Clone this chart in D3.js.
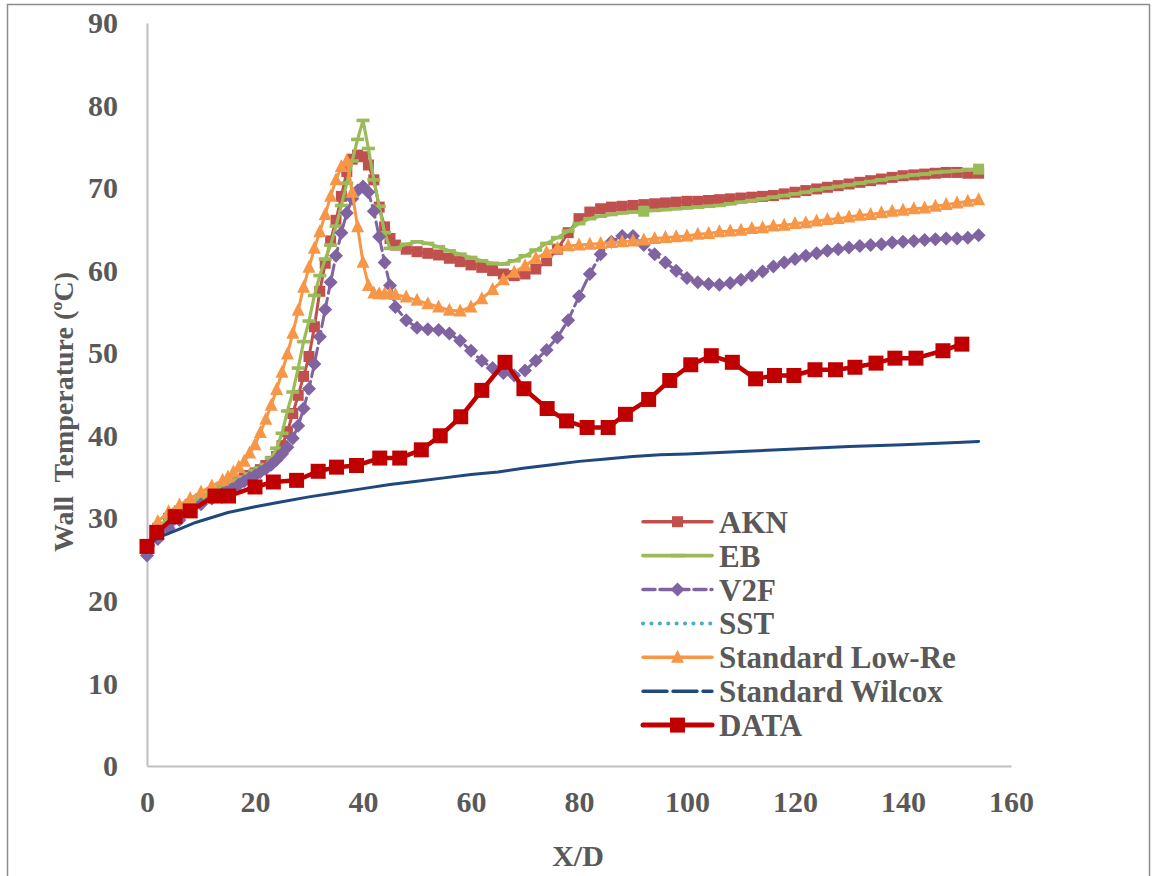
<!DOCTYPE html>
<html><head><meta charset="utf-8">
<script src="https://cdn.jsdelivr.net/npm/d3@7"></script>
<style>
body{margin:0;background:#fff}
svg{display:block}
</style>
</head><body>
<svg id="c" width="1153" height="876"></svg>
<script>
// ---------- data ----------
const xTicks = [0, 20, 40, 60, 80, 100, 120, 140, 160];
const yTicks = [0, 10, 20, 30, 40, 50, 60, 70, 80, 90];
const seriesNames = ["AKN", "EB", "V2F", "SST", "Standard Low-Re", "Standard Wilcox", "DATA"];

const xModel = [0,2,4,6,8,10,12,14,15,16,17,18,19,20,21,22,23,24,25,26,27,28,29,30,31,32,33,34,35,36,37,38,39,40,41,42,43,44,45,46,
  48,50,52,54,56,58,60,62,64,66,68,70,72,74,76,78,80,82,84,86,88,90,92,94,96,98,100,102,104,106,108,110,112,114,116,118,120,122,124,126,
  128,130,132,134,136,138,140,142,144,146,148,150,152,154];

const yAKN = [26.6,28.8,30.0,30.9,31.7,32.4,33.1,33.7,
  34.0,34.3,34.6,34.9,35.2,35.5,35.9,36.4,36.9,37.5,38.8,40.5,42.7,44.9,47.2,49.6,53.2,57.5,60.9,63.6,66.1,69.0,72.0,73.5,74.0,73.8,72.8,71.0,67.7,65.3,63.9,63.1,
  62.6,62.3,62.1,61.9,61.5,61.1,60.7,60.4,60.0,59.6,59.4,59.6,60.2,61.2,62.6,64.6,66.3,67.1,67.5,67.7,67.8,67.9,68.0,68.1,68.2,68.3,68.4,68.4,68.5,68.6,
  68.7,68.8,68.9,69.0,69.1,69.3,69.5,69.7,69.9,70.1,70.3,70.5,70.7,70.9,71.1,71.3,71.5,71.6,71.7,71.8,71.9,71.9,71.8,71.8];

const yEB = [26.6,28.9,30.1,31.0,31.8,32.5,33.2,33.8,
  34.1,34.4,34.7,35.0,35.4,35.8,36.1,36.5,37.3,38.5,40.3,43.0,45.3,48.2,51.4,53.9,57.0,59.4,61.4,63.1,65.4,67.9,70.6,73.3,75.9,78.2,74.8,71.0,67.8,64.6,62.7,62.7,
  63.2,63.5,63.3,62.9,62.4,62.0,61.6,61.2,60.9,60.8,61.2,61.8,62.5,63.3,64.0,64.8,65.7,66.3,66.6,66.8,67.0,67.1,67.2,67.3,67.4,67.5,67.6,67.7,67.8,67.9,
  68.1,68.3,68.5,68.7,68.9,69.1,69.3,69.5,69.8,70.0,70.2,70.4,70.6,70.8,71.0,71.2,71.4,71.6,71.7,71.9,72.0,72.1,72.2,72.3];
const ebSquareX = [92, 154];

const yV2F = [25.5,27.5,28.8,29.8,30.9,31.7,32.4,33.0,
  33.4,33.7,34.1,34.5,34.9,35.2,35.6,36.0,36.5,37.1,37.8,38.6,39.7,41.2,43.3,45.7,48.7,52.0,55.3,58.6,61.8,64.6,67.0,68.7,69.7,70.2,69.5,67.2,64.1,61.0,58.2,55.6,
  54.0,53.1,52.9,52.8,52.4,51.5,50.3,49.1,48.2,47.6,47.3,47.9,49.1,50.4,51.9,54.0,56.9,59.6,62.0,63.5,64.2,64.2,63.1,62.0,61.0,60.0,59.1,58.6,58.4,58.3,
  58.5,58.9,59.4,59.9,60.5,61.0,61.4,61.8,62.1,62.4,62.6,62.8,63.0,63.1,63.2,63.4,63.5,63.6,63.7,63.8,63.9,63.9,64.0,64.3];

const ySST = [];

const yLowRe = [26.6,29.6,30.8,31.6,32.4,33.2,33.9,34.6,
  35.0,35.6,36.2,36.9,37.9,38.9,40.4,42.0,43.7,45.6,47.7,49.9,52.4,55.2,58.0,60.4,62.7,64.7,66.8,69.0,71.0,72.6,73.3,69.5,65.3,61.0,58.2,57.3,57.2,57.2,57.2,57.1,
  56.8,56.4,56.0,55.6,55.2,55.1,55.6,56.6,57.7,58.9,59.8,60.6,61.5,62.2,62.7,63.0,63.1,63.2,63.3,63.4,63.5,63.6,63.7,63.9,64.0,64.1,64.2,64.4,64.5,64.7,
  64.8,64.9,65.1,65.2,65.4,65.5,65.7,65.8,66.0,66.2,66.3,66.5,66.7,66.8,67.0,67.2,67.3,67.5,67.6,67.8,68.0,68.2,68.4,68.6];

const xWilcox = [0,1,3,6,9,12,15,20,25,30,35,40,45,50,55,60,65,70,75,80,85,90,95,100,110,120,130,140,150,154];
const yWilcox = [26.3,27.2,27.9,28.7,29.5,30.1,30.7,31.4,32.0,32.6,33.1,33.6,34.1,34.5,34.9,35.3,35.6,36.1,36.5,36.9,37.2,37.5,37.7,37.8,38.1,38.4,38.7,38.9,39.2,39.3];

const xData = [0,1.8,5.2,8,12.6,15.1,20,23.4,27.7,31.7,35.1,38.8,43.1,46.8,50.8,54.3,58.1,62,66.3,69.8,74.1,77.7,81.5,85.4,88.6,92.9,96.8,100.7,104.5,108.4,112.7,116.2,119.8,123.7,127.5,131.1,135,138.5,142.4,147.4,150.9];
const yData = [26.6,28.3,30.2,30.9,32.7,32.7,33.8,34.4,34.6,35.7,36.2,36.4,37.3,37.3,38.3,40.0,42.3,45.5,48.9,45.7,43.3,41.8,41.0,41.0,42.6,44.4,46.7,48.6,49.7,48.9,46.9,47.3,47.3,48.0,48.0,48.3,48.8,49.4,49.4,50.3,51.1];

// ---------- drawing ----------
const FONT = "'Liberation Serif','Times New Roman',serif";
const GREY = "#595959";
const svg = d3.select("#c");

svg.append("rect").attr("x", 7.5).attr("y", 4.5).attr("width", 1142).attr("height", 900)
  .attr("fill", "none").attr("stroke", "#8c8c8c").attr("stroke-width", 1.5);

const x = d3.scaleLinear().domain([0, 160]).range([147, 1011]);
const y = d3.scaleLinear().domain([0, 90]).range([766, 23]);

const gx = svg.append("g").attr("transform", "translate(0,766)")
  .call(d3.axisBottom(x).tickValues(xTicks).tickSize(0).tickSizeOuter(0).tickPadding(25));
const gy = svg.append("g").attr("transform", "translate(147,0)")
  .call(d3.axisLeft(y).tickValues(yTicks).tickSize(0).tickSizeOuter(0).tickPadding(29));
[gx, gy].forEach(g => {
  g.attr("font-family", FONT).attr("font-size", 30).attr("font-weight", "bold").attr("color", GREY);
  g.select(".domain").attr("stroke", "#bfbfbf").attr("stroke-width", 2);
});

svg.append("text").attr("x", 578).attr("y", 866).attr("text-anchor", "middle")
  .attr("font-family", FONT).attr("font-size", 30).attr("font-weight", "bold").attr("fill", GREY).text("X/D");
svg.append("text").attr("transform", "translate(73,412) rotate(-90)").attr("text-anchor", "middle")
  .attr("font-family", FONT).attr("font-size", 28).attr("font-weight", "bold").attr("fill", GREY)
  .style("white-space", "pre").text("Wall  Temperature (ºC)");

function markerPath(type, s) {
  const h = s / 2;
  if (type === "square") return `M${-h},${-h}H${h}V${h}H${-h}Z`;
  if (type === "diamond") return `M0,${-h}L${h},0L0,${h}L${-h},0Z`;
  if (type === "triangle") return `M0,${-s*0.58}L${h},${s*0.42}L${-h},${s*0.42}Z`;
  if (type === "dash") return `M${-h},-1.8H${h}V1.8H${-h}Z`;
  return "";
}

const series = [
  {name: seriesNames[0], xs: xModel, ys: yAKN, color: "#C0504D", w: 3, dash: null, marker: "square", ms: 11},
  {name: seriesNames[1], xs: xModel, ys: yEB, color: "#9BBB59", w: 3.2, dash: null, marker: "dash", ms: 13},
  {name: seriesNames[2], xs: xModel, ys: yV2F, color: "#8064A2", w: 3, dash: "12,5", marker: "diamond", ms: 14},
  {name: seriesNames[3], xs: [], ys: ySST, color: "#4BACC6", w: 3.5, dash: "0.1,8.3", legendDash: "0.1,8.3", marker: null, ms: 0},
  {name: seriesNames[4], xs: xModel, ys: yLowRe, color: "#F79646", w: 3, dash: null, marker: "triangle", ms: 13},
  {name: seriesNames[5], xs: xWilcox, ys: yWilcox, color: "#1F497D", w: 3, dash: null, legendDash: "24,6", marker: null, ms: 0},
  {name: seriesNames[6], xs: xData, ys: yData, color: "#C00000", w: 4.5, dash: null, marker: "square", ms: 15}
];

const line = d3.line().x(d => x(d[0])).y(d => y(d[1]));
const plot = svg.append("g");
series.forEach(s => {
  const pts = s.ys.map((v, i) => [s.xs[i], v]);
  if (!pts.length) return;
  plot.append("path").attr("d", line(pts)).attr("fill", "none").attr("stroke", s.color)
    .attr("stroke-width", s.w).attr("stroke-linejoin", "round").attr("stroke-linecap", "round")
    .attr("stroke-dasharray", s.dash);
  if (s.marker) {
    plot.append("g").selectAll("path").data(pts).join("path")
      .attr("transform", d => `translate(${x(d[0])},${y(d[1])})`)
      .attr("d", d => (s.name === "EB" && ebSquareX.includes(d[0])) ? markerPath("square", 11) : markerPath(s.marker, s.ms))
      .attr("fill", s.color);
  }
});

// legend
const leg = svg.append("g");
series.forEach((s, i) => {
  const ry = 521.7 + i * 33.9;
  leg.append("line").attr("x1", 643).attr("x2", 712).attr("y1", ry).attr("y2", ry)
    .attr("stroke", s.color).attr("stroke-width", s.w + 0.5).attr("stroke-linecap", "round")
    .attr("stroke-dasharray", s.legendDash || s.dash);
  if (s.marker) leg.append("path").attr("transform", `translate(677.5,${ry})`)
    .attr("d", markerPath(s.marker, s.marker === "dash" ? 14 : s.ms)).attr("fill", s.color);
  leg.append("text").attr("x", 719).attr("y", ry + 11).attr("font-family", FONT).attr("font-size", 31)
    .attr("font-weight", "bold").attr("fill", GREY).text(s.name);
});
</script>
</body></html>
